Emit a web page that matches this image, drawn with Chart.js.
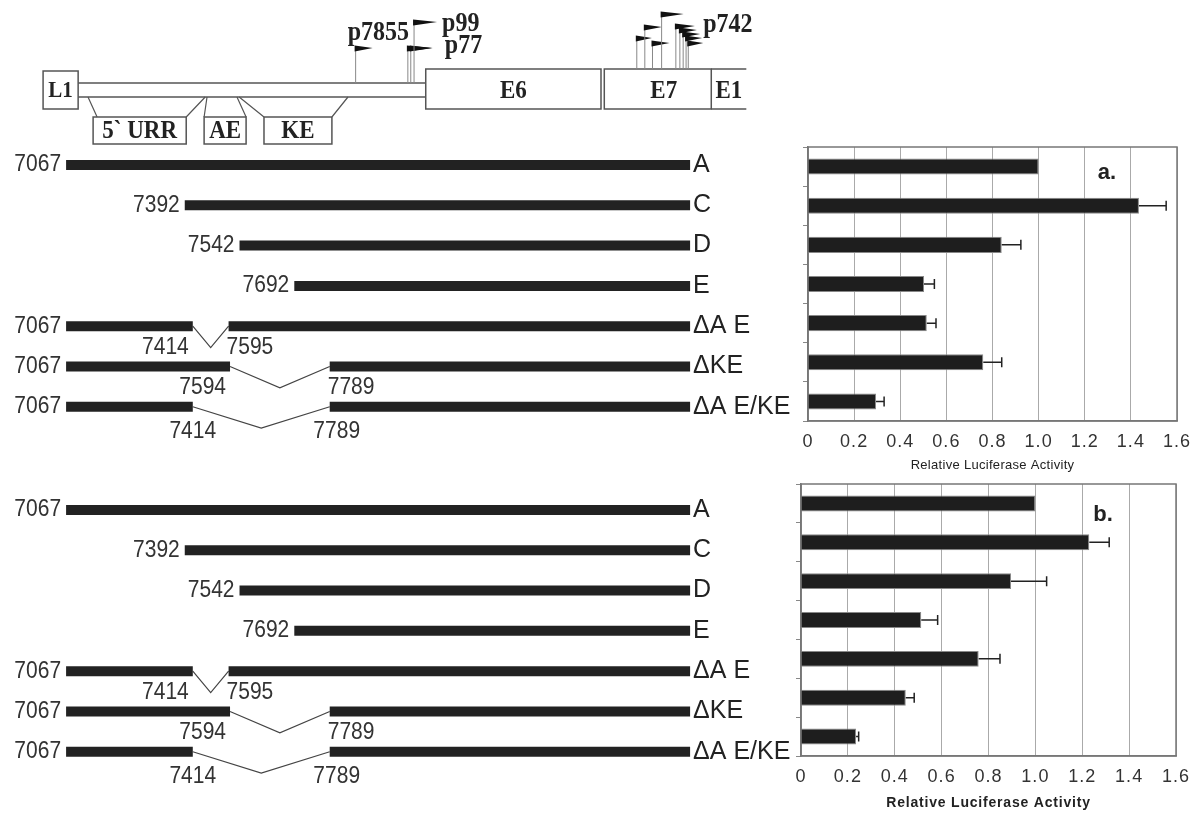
<!DOCTYPE html>
<html>
<head>
<meta charset="utf-8">
<title>URR deletion constructs - luciferase activity</title>
<script src="https://cdn.jsdelivr.net/npm/chart.js@4.4.0/dist/chart.umd.min.js"></script>
<style>
  body { margin: 0; background: #fff; }
  #wrap { position: relative; width: 1192px; height: 814px; overflow: hidden; }
  canvas { position: absolute; }
</style>
</head>
<body>
<div id="wrap">
  <canvas id="mapChart" width="800" height="814" style="left:0;top:0"></canvas>
  <canvas id="chartA" width="432" height="350" style="left:760px;top:130px"></canvas>
  <canvas id="chartB" width="432" height="344" style="left:760px;top:470px"></canvas>
</div>
<script>
// Constructs, in map positions (nt). The figure is not drawn to scale
// around the deletions, so the drawn breakpoints are read off the picture.
const constructNames = ["A", "C", "D", "E", "\u0394A E", "\u0394KE", "\u0394A E/KE"]
const constructStarts = [7067, 7392, 7542, 7692, 7067, 7067, 7067]
const constructEnd = 8776
const deletionFrom = [null, null, null, null, 7414, 7516, 7414]
const deletionTo = [null, null, null, null, 7512, 7789, 7789]
const deletionLabels = [null, null, null, null, ["7414", "7595"], ["7594", "7789"], ["7414", "7789"]]

// Genome map above the constructs
const orfNames = ["L1", "E6", "E7", "E1"]
const orfStarts = [7004, 8052, 8541, 8834]
const orfEnds = [7100, 8532, 8834, 8930]
const urrStart = 7100
const urrEnd = 8052
const elementNames = ["5` URR", "AE", "KE"]
const elementSpanStarts = [7127, 7453, 7541]
const elementSpanEnds = [7448, 7535, 7839]
const elementBoxStarts = [7141, 7445, 7609]
const elementBoxEnds = [7396, 7560, 7795]
const promoterSites = [7860, 8003, 8011, 8020, 8630, 8652, 8673, 8698, 8737, 8748, 8757, 8765, 8771]
const promoterNames = ["p7855", "p99", "p77", "p742"]
const promoterNameSites = [7860, 8020, 8003, 8771]

// Relative luciferase activity
const tickLabels = ["0", "0.2", "0.4", "0.6", "0.8", "1.0", "1.2", "1.4", "1.6"]
const activityA = [1.0, 1.435, 0.84, 0.503, 0.515, 0.76, 0.295]
const errorA = [0, 0.118, 0.083, 0.045, 0.04, 0.08, 0.035]
const activityB = [1.0, 1.23, 0.896, 0.513, 0.758, 0.447, 0.235]
const errorB = [0, 0.085, 0.152, 0.07, 0.091, 0.036, 0.011]

const SANS = "'Liberation Sans', Arial, sans-serif"
const SERIF = "'Liberation Serif', 'Times New Roman', serif"

function drawText(ctx, text, x, y, font, align, baseline, stretch) {
  ctx.save()
  ctx.translate(x, y)
  ctx.scale(1, stretch || 1)
  ctx.font = font
  ctx.textAlign = align
  ctx.textBaseline = baseline || "middle"
  ctx.fillText(text, 0, 0)
  ctx.restore()
}

// ---------- left: map + constructs ----------
const panelOffsets = [0, 8.56]   // panel b rows start 8.56 rows below panel a
const dip = 0.53

const mapDatasets = []
panelOffsets.forEach((off) => {
  constructNames.forEach((name, i) => {
    const row = i + off
    const pieces = deletionFrom[i] === null
      ? [[constructStarts[i], constructEnd]]
      : [[constructStarts[i], deletionFrom[i]], [deletionTo[i], constructEnd]]
    pieces.forEach((p) => {
      mapDatasets.push({
        data: [{ x: p[0], y: row }, { x: p[1], y: row }],
        borderColor: "#222",
        borderWidth: 10,
        showLine: true,
      })
    })
    if (deletionFrom[i] !== null) {
      const mid = (deletionFrom[i] + deletionTo[i]) / 2
      mapDatasets.push({
        data: [{ x: deletionFrom[i], y: row }, { x: mid, y: row + dip }, { x: deletionTo[i], y: row }],
        borderColor: "#444",
        borderWidth: 1.2,
        showLine: true,
      })
    }
  })
})

const flagTops = [47, 47, 47, 21, 37, 26, 42, 13, 25, 29, 33, 37, 42]
const flagLengths = [17, 24, 22, 23, 15, 17, 17, 22, 19, 17, 17, 16, 15]
const nameDx = [-8, 28, 37, 15]
const nameBaselines = [40, 31, 53, 32]

const mapPlugin = {
  id: "mapPlugin",
  afterDatasetsDraw(chart) {
    const { ctx, scales: { x, y } } = chart
    const px = (v) => x.getPixelForValue(v)
    ctx.save()
    ctx.strokeStyle = "#555"
    ctx.lineWidth = 1.5

    // URR as a double line
    ctx.beginPath()
    ctx.moveTo(px(urrStart), 83); ctx.lineTo(px(urrEnd), 83)
    ctx.moveTo(px(urrStart), 97); ctx.lineTo(px(urrEnd), 97)
    ctx.stroke()

    // ORF boxes
    orfNames.forEach((name, i) => {
      const x0 = px(orfStarts[i]), x1 = px(orfEnds[i])
      const top = i === 0 ? 71 : 69
      ctx.beginPath()
      if (name === "E1") {
        ctx.moveTo(x0, top); ctx.lineTo(x1, top)
        ctx.moveTo(x0, 109); ctx.lineTo(x1, 109)
      } else {
        ctx.rect(x0, top, x1 - x0, 109 - top)
      }
      ctx.stroke()
      ctx.fillStyle = "#222"
      const size = i === 0 ? 21 : 23
      drawText(ctx, name, (x0 + x1) / 2 + (name === "E7" ? 6 : 0), 91, "bold " + size + "px " + SERIF, "center", "middle", 1.12)
    })

    // URR elements with connectors
    elementNames.forEach((name, i) => {
      const b0 = px(elementBoxStarts[i]), b1 = px(elementBoxEnds[i])
      ctx.strokeStyle = "#555"
      ctx.lineWidth = 1.5
      ctx.beginPath()
      ctx.rect(b0, 117, b1 - b0, 27)
      ctx.stroke()
      ctx.lineWidth = 1.2
      ctx.beginPath()
      ctx.moveTo(px(elementSpanStarts[i]), 97); ctx.lineTo(b0 + (i === 0 ? 4 : 0), 117)
      ctx.moveTo(px(elementSpanEnds[i]), 97); ctx.lineTo(b1, 117)
      ctx.stroke()
      ctx.fillStyle = "#222"
      drawText(ctx, name, (b0 + b1) / 2, 131, "bold 23px " + SERIF, "center", "middle", 1.12)
    })

    // promoter flags
    promoterSites.forEach((site, k) => {
      const xp = px(site)
      const base = site > orfStarts[2] ? 69 : 83
      const top = flagTops[k]
      ctx.strokeStyle = "#888"
      ctx.lineWidth = 1
      ctx.beginPath(); ctx.moveTo(xp, base); ctx.lineTo(xp, top); ctx.stroke()
      ctx.fillStyle = "#111"
      ctx.beginPath()
      ctx.moveTo(xp - 1, top - 1.5)
      ctx.lineTo(xp + flagLengths[k], top + 1)
      ctx.lineTo(xp - 1, top + 4.5)
      ctx.closePath()
      ctx.fill()
    })
    ctx.fillStyle = "#222"
    promoterNames.forEach((name, k) => {
      drawText(ctx, name, px(promoterNameSites[k]) + nameDx[k], nameBaselines[k], "bold 24px " + SERIF, "left", "alphabetic", 1.12)
    })

    // construct labels
    const numFont = "21px " + SANS
    const nameFont = "25px " + SANS
    panelOffsets.forEach((off) => {
      constructNames.forEach((name, i) => {
        const yy = y.getPixelForValue(i + off)
        ctx.fillStyle = "#333"
        drawText(ctx, String(constructStarts[i]), px(constructStarts[i]) - 5, yy, numFont, "right", "middle", 1.12)
        ctx.fillStyle = "#222"
        drawText(ctx, name, px(constructEnd) + 3, yy, nameFont, "left")
        if (deletionLabels[i]) {
          ctx.fillStyle = "#333"
          const wide = deletionTo[i] - deletionFrom[i] > 300
          const ly = yy + (wide ? 25 : 21)
          if (wide) {
            drawText(ctx, deletionLabels[i][0], px(deletionFrom[i]), ly, numFont, "center", "middle", 1.12)
            drawText(ctx, deletionLabels[i][1], px(deletionTo[i]) + 7, ly, numFont, "center", "middle", 1.12)
          } else {
            drawText(ctx, deletionLabels[i][0], px(deletionFrom[i]) - 4, ly, numFont, "right", "middle", 1.12)
            drawText(ctx, deletionLabels[i][1], px(deletionTo[i]) - 2, ly, numFont, "left", "middle", 1.12)
          }
        }
      })
    })
    ctx.restore()
  },
}

new Chart(document.getElementById("mapChart"), {
  type: "scatter",
  data: { datasets: mapDatasets },
  options: {
    responsive: false,
    animation: false,
    devicePixelRatio: 1,
    events: [],
    layout: { padding: 0, autoPadding: false },
    elements: { point: { radius: 0 }, line: { tension: 0, borderCapStyle: "butt" } },
    plugins: { legend: { display: false }, tooltip: { enabled: false } },
    scales: {
      x: { type: "linear", display: false, min: 6886, max: 9077 },
      y: { type: "linear", display: false, min: -4.094, max: 16.104, reverse: true },
    },
  },
  plugins: [mapPlugin],
})

// ---------- right: activity bar charts ----------
const errorBarPlugin = {
  id: "errorBars",
  afterDatasetsDraw(chart, args, opts) {
    const { ctx, scales: { x } } = chart
    const bars = chart.getDatasetMeta(0).data
    const values = chart.data.datasets[0].data
    ctx.save()
    ctx.strokeStyle = "#222"
    ctx.lineWidth = 1.5
    bars.forEach((bar, i) => {
      const err = opts.errors[i]
      if (!err) return
      const x1 = x.getPixelForValue(values[i] + err)
      ctx.beginPath()
      ctx.moveTo(bar.x, bar.y); ctx.lineTo(x1, bar.y)
      ctx.moveTo(x1, bar.y - 5); ctx.lineTo(x1, bar.y + 5)
      ctx.stroke()
    })
    ctx.restore()
  },
}

const panelPlugin = {
  id: "panelText",
  beforeDraw(chart) {
    chart.ctx.letterSpacing = "1px"
  },
  beforeDatasetsDraw(chart) {
    const { ctx, chartArea: a } = chart
    ctx.save()
    ctx.strokeStyle = "#777"
    ctx.lineWidth = 1.5
    ctx.strokeRect(a.left, a.top, a.right - a.left, a.bottom - a.top)
    ctx.restore()
  },
  afterDraw(chart, args, opts) {
    const { ctx, chartArea: a } = chart
    ctx.save()
    ctx.fillStyle = "#222"
    ctx.letterSpacing = "0px"
    drawText(ctx, opts.letter, a.right - opts.letterDx, a.top + opts.letterDy, "bold 22px " + SANS, "center")
    ctx.letterSpacing = opts.titleSpacing
    drawText(ctx, "Relative Luciferase Activity", (a.left + a.right) / 2, a.bottom + opts.titleDy, opts.titleFont, "center")
    ctx.restore()
  },
}

function activityChart(id, values, errors, o) {
  return new Chart(document.getElementById(id), {
    type: "bar",
    data: {
      labels: constructNames,
      datasets: [{
        data: values,
        backgroundColor: "#1e1e1e",
        borderColor: "#888",
        borderWidth: 1,
        categoryPercentage: 1,
        barPercentage: 0.41,
      }],
    },
    options: {
      indexAxis: "y",
      responsive: false,
      animation: false,
      devicePixelRatio: 1,
      events: [],
      layout: { autoPadding: false, padding: o.padding },
      plugins: {
        legend: { display: false },
        tooltip: { enabled: false },
        errorBars: { errors },
        panelText: o.text,
      },
      scales: {
        x: {
          type: "linear",
          min: 0,
          max: 1.6,
          ticks: {
            stepSize: 0.2,
            autoSkip: false,
            maxRotation: 0,
            padding: 0,
            color: "#333",
            font: { family: SANS, size: 18 },
            callback: (v) => tickLabels[Math.round(v / 0.2)],
          },
          // invisible tick marks push the labels down without widening the right padding
          grid: { color: "#aaa", lineWidth: 1, drawTicks: true, tickLength: 10, tickColor: "rgba(0,0,0,0)" },
          border: { color: "#777", width: 1.5 },
          afterFit: (s) => { s.height = o.xHeight },
        },
        y: {
          ticks: { display: false },
          grid: { drawOnChartArea: false, drawTicks: true, tickLength: 5, color: "#888", offset: true },
          border: { color: "#777", width: 1.5 },
          afterFit: (s) => { s.width = o.yWidth },
        },
      },
    },
    plugins: [errorBarPlugin, panelPlugin],
  })
}

activityChart("chartA", activityA, errorA, {
  padding: { top: 17, right: 15, bottom: 0, left: 0 },
  xHeight: 59,
  yWidth: 48,
  text: { letter: "a.", letterDx: 70, letterDy: 26, titleDy: 44, titleFont: "13px " + SANS, titleSpacing: "0.3px" },
})

activityChart("chartB", activityB, errorB, {
  padding: { top: 14, right: 16, bottom: 0, left: 0 },
  xHeight: 58,
  yWidth: 41,
  text: { letter: "b.", letterDx: 73, letterDy: 31, titleDy: 47, titleFont: "bold 14px " + SANS, titleSpacing: "0.8px" },
})
</script>
</body>
</html>
